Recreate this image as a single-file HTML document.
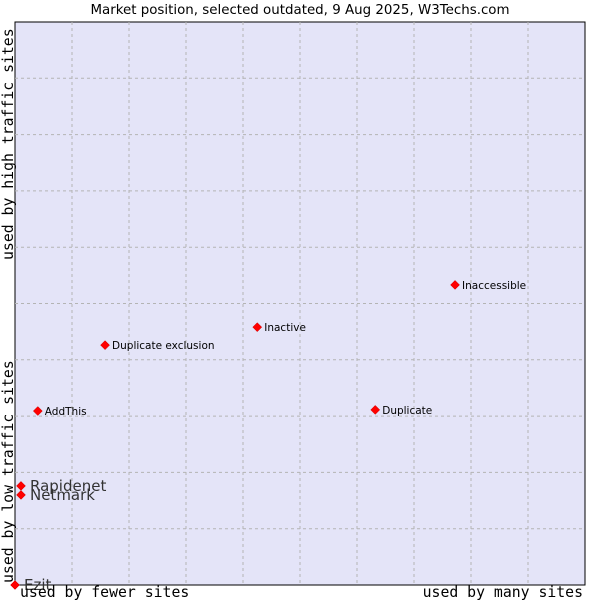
<!DOCTYPE html>
<html><head><meta charset="utf-8"><style>
body{margin:0;background:#fff;width:600px;height:600px;overflow:hidden}
svg{display:block}
</style></head><body>
<svg width="600" height="600" xmlns="http://www.w3.org/2000/svg">
<text x="300" y="14" text-anchor="middle" font-family="DejaVu Sans, sans-serif" font-size="13.4" fill="#000">Market position, selected outdated, 9 Aug 2025, W3Techs.com</text>
<rect x="15" y="22" width="570" height="563" fill="#e4e4f8" stroke="#000" stroke-width="1"/>
<g id="grid"></g>
<g id="pts"></g>
<text x="20" y="597" font-family="DejaVu Sans Mono, monospace" font-size="14.8">used by fewer sites</text>
<text x="583" y="597" text-anchor="end" font-family="DejaVu Sans Mono, monospace" font-size="14.8">used by many sites</text>
<text transform="translate(13,583) rotate(-90)" font-family="DejaVu Sans Mono, monospace" font-size="14.8">used by low traffic sites</text>
<text transform="translate(13,260) rotate(-90)" font-family="DejaVu Sans Mono, monospace" font-size="14.8">used by high traffic sites</text>
</svg>
<script>
const names=["Ezit","Rapidenet","Netmark","AddThis","Duplicate exclusion","Inactive","Duplicate","Inaccessible"];
const xVals=[0,1.05,1.05,4.0,15.8,42.5,63.2,77.2];
const yVals=[0,17.6,16.0,30.9,42.6,45.8,31.1,53.3];
const bigLabel=[true,true,true,false,false,false,false,false];
const NS="http://www.w3.org/2000/svg";
const X=v=>15+v*5.7, Y=v=>585-v*5.63;
const g=document.getElementById('grid');
for(let i=1;i<10;i++){
 const l=document.createElementNS(NS,'line');
 l.setAttribute('x1',X(i*10));l.setAttribute('x2',X(i*10));l.setAttribute('y1',22);l.setAttribute('y2',585);
 l.setAttribute('stroke','#b4b4b4');l.setAttribute('stroke-dasharray','3,3');
 
 
 g.appendChild(l);
 const h=document.createElementNS(NS,'line');
 h.setAttribute('y1',Y(i*10));h.setAttribute('y2',Y(i*10));h.setAttribute('x1',15);h.setAttribute('x2',585);
 h.setAttribute('stroke','#b4b4b4');h.setAttribute('stroke-dasharray','3,3');
 
 
 g.appendChild(h);
}
const p=document.getElementById('pts');
names.forEach((n,i)=>{
 const cx=X(xVals[i]),cy=Y(yVals[i]);
 const d=document.createElementNS(NS,'path');
 d.setAttribute('d',`M${cx} ${cy-4.5}L${cx+4.5} ${cy}L${cx} ${cy+4.5}L${cx-4.5} ${cy}Z`);
 d.setAttribute('fill','#f00');d.setAttribute('stroke','#c00');d.setAttribute('stroke-width','0.5');
 
 
 p.appendChild(d);
 const t=document.createElementNS(NS,'text');
 const big=bigLabel[i];
 t.setAttribute('x',cx+(big?9:7));t.setAttribute('y',cy+(big?5:4));
 t.setAttribute('font-family','DejaVu Sans, sans-serif');t.setAttribute('font-size',big?15:10.5);
 t.setAttribute('fill',big?'#333':'#000');
 t.textContent=n;
 
 
 p.appendChild(t);
});
</script>
</body></html>
